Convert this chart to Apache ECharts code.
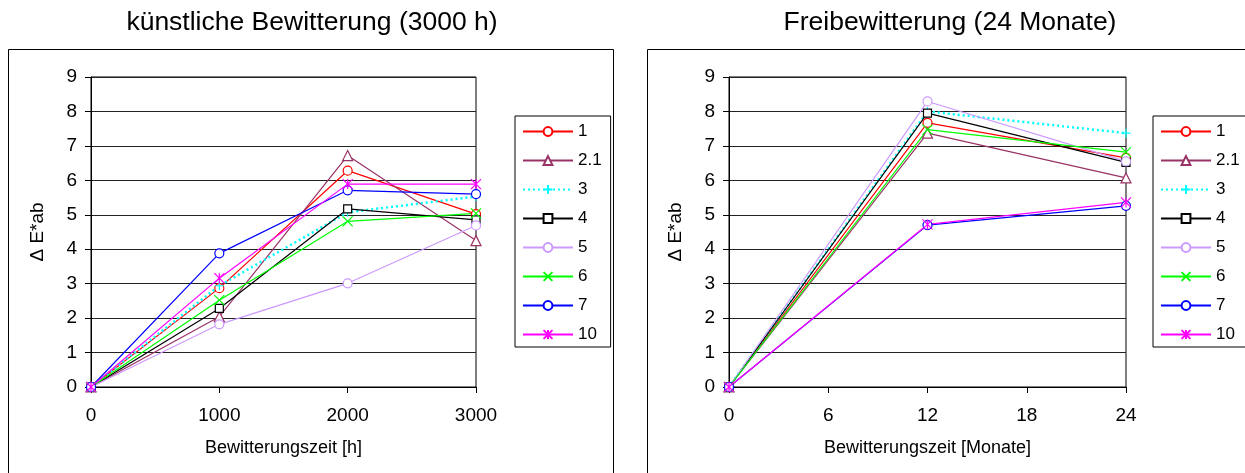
<!DOCTYPE html>
<html>
<head>
<meta charset="utf-8">
<script src="https://cdn.jsdelivr.net/npm/echarts@6/dist/echarts.min.js"></script>
<style>
html,body{margin:0;padding:0;background:#fff;}
#c{width:1245px;height:473px;}
</style>
</head>
<body>
<div id="c"></div>
<script>
// ---- data ----
const seriesNames = ['1', '2.1', '3', '4', '5', '6', '7', '10'];
const titleLeft = 'künstliche Bewitterung (3000 h)';
const titleRight = 'Freibewitterung (24 Monate)';
const xNameLeft = 'Bewitterungszeit [h]';
const xNameRight = 'Bewitterungszeit [Monate]';
const yName = 'Δ E*ab';

const xLeft = [0, 1000, 2000, 3000];
const left1   = [0, 2.87, 6.28, 5.02];
const left21  = [0, 2.04, 6.72, 4.25];
const left3   = [0, 2.94, 5.07, 5.53];
const left4   = [0, 2.28, 5.17, 4.85];
const left5   = [0, 1.82, 3.01, 4.69];
const left6   = [0, 2.52, 4.81, 5.04];
const left7   = [0, 3.88, 5.71, 5.60];
const left10  = [0, 3.16, 5.89, 5.89];

const xRight = [0, 12, 24];
const right1  = [0, 7.67, 6.65];
const right21 = [0, 7.37, 6.07];
const right3  = [0, 8.00, 7.37];
const right4  = [0, 7.95, 6.52];
const right5  = [0, 8.29, 6.55];
const right6  = [0, 7.47, 6.82];
const right7  = [0, 4.70, 5.26];
const right10 = [0, 4.72, 5.36];

const leftData = [left1, left21, left3, left4, left5, left6, left7, left10];
const rightData = [right1, right21, right3, right4, right5, right6, right7, right10];

// ---- styles ----
const FONT = '"Liberation Sans", Arial, sans-serif';
const colors = ['#FF0000', '#993366', '#00FFFF', '#000000', '#CC99FF', '#00FF00', '#0000FF', '#FF00FF'];
const symbols = [
  'circle',
  'triangle',
  'path://M0,5L10,5M5,0L5,10',
  'rect',
  'circle',
  'path://M0,0L10,10M10,0L0,10',
  'circle',
  'path://M0,0L10,10M10,0L0,10M5,0L5,10'
];
const symSizes = [9, 10, 9, 8, 9, 10, 9, 10];

function makeSeries(xs, datas, xi, yi) {
  return datas.map((d, i) => ({
    name: seriesNames[i],
    type: 'line',
    xAxisIndex: xi,
    yAxisIndex: yi,
    data: d.map((v, k) => [xs[k], v]),
    symbol: symbols[i],
    symbolSize: symSizes[i],
    symbolKeepAspect: true,
    showAllSymbol: true,
    animation: false,
    lineStyle: {
      color: colors[i],
      width: i === 2 ? 2.5 : 1.2,
      type: i === 2 ? [2, 3] : 'solid'
    },
    itemStyle: {
      color: '#ffffff',
      borderColor: colors[i],
      borderWidth: 1.2
    },
    emphasis: {disabled: true}
  }));
}

function yAxisCfg(gi) {
  return {
    gridIndex: gi,
    type: 'value',
    min: 0, max: 9, interval: 1,
    name: yName,
    nameLocation: 'middle',
    nameGap: 44,
    nameRotate: 90,
    nameTextStyle: {fontFamily: FONT, fontSize: 19, color: '#000'},
    axisLine: {show: true, lineStyle: {color: '#000', width: 1}},
    axisTick: {show: true, length: 6, lineStyle: {color: '#000'}},
    axisLabel: {fontFamily: FONT, fontSize: 19, color: '#000', margin: 14},
    splitLine: {show: true, lineStyle: {color: '#222', width: 1}}
  };
}

function xAxisCfg(gi, max, interval, name) {
  return {
    gridIndex: gi,
    type: 'value',
    min: 0, max: max, interval: interval,
    name: name,
    nameLocation: 'middle',
    nameGap: 52,
    nameTextStyle: {fontFamily: FONT, fontSize: 18, color: '#000'},
    axisLine: {show: true, onZero: false, lineStyle: {color: '#000', width: 1}},
    axisTick: {show: true, length: 6, lineStyle: {color: '#000'}},
    axisLabel: {fontFamily: FONT, fontSize: 19, color: '#000', margin: 19,
                formatter: v => String(v)},
    splitLine: {show: false}
  };
}

function legendCfg(left) {
  return {
    data: seriesNames,
    orient: 'vertical',
    left: left,
    top: 116,
    itemWidth: 50,
    itemHeight: 11,
    itemGap: 12,
    padding: [7, 9, 4, 7],
    borderColor: '#000',
    borderWidth: 1,
    backgroundColor: '#fff',
    textStyle: {fontFamily: FONT, fontSize: 17, color: '#000'},
    selectedMode: false
  };
}

const chart = echarts.init(document.getElementById('c'), null, {renderer: 'canvas'});
const option = {
  backgroundColor: '#ffffff',
  animation: false,
  title: [
    {text: titleLeft, left: 307, top: 4, textAlign: 'center',
     textStyle: {fontFamily: FONT, fontSize: 26.5, fontWeight: 'normal', color: '#000'}},
    {text: titleRight, left: 945, top: 4, textAlign: 'center',
     textStyle: {fontFamily: FONT, fontSize: 26.5, fontWeight: 'normal', color: '#000'}}
  ],
  graphic: [
    {type: 'rect', left: 8, top: 49, z: -10, silent: true,
     shape: {width: 605, height: 440}, style: {fill: '#fff', stroke: '#000', lineWidth: 1}},
    {type: 'rect', left: 647, top: 49, z: -10, silent: true,
     shape: {width: 620, height: 440}, style: {fill: '#fff', stroke: '#000', lineWidth: 1}}
  ],
  grid: [
    {left: 91, top: 77, width: 385, height: 310, show: true, borderColor: '#000', borderWidth: 1, backgroundColor: 'transparent'},
    {left: 729, top: 77, width: 397, height: 310, show: true, borderColor: '#000', borderWidth: 1, backgroundColor: 'transparent'}
  ],
  xAxis: [xAxisCfg(0, 3000, 1000, xNameLeft), xAxisCfg(1, 24, 6, xNameRight)],
  yAxis: [yAxisCfg(0), yAxisCfg(1)],
  legend: [legendCfg(515), legendCfg(1153)],
  series: makeSeries(xLeft, leftData, 0, 0).concat(makeSeries(xRight, rightData, 1, 1))
};
chart.setOption(option);
</script>
</body>
</html>
